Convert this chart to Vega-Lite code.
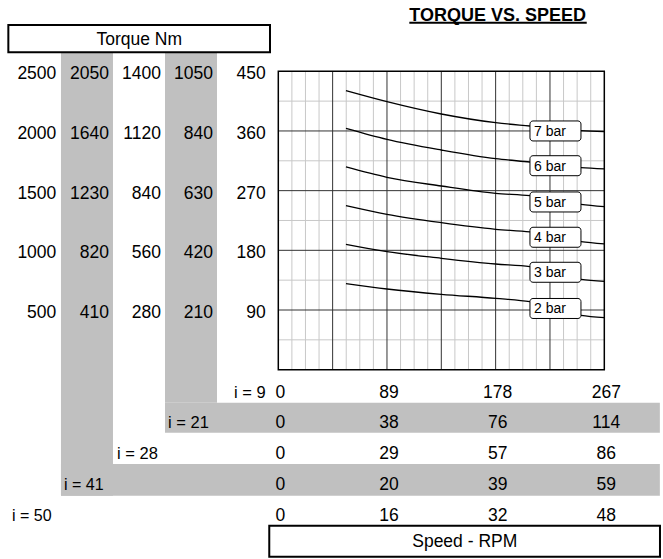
{
  "$schema": "https://vega.github.io/schema/vega-lite/v6.json",
  "width": 663,
  "height": 559,
  "padding": 0,
  "autosize": {"type": "none"},
  "background": "white",
  "config": {"view": {"stroke": null}, "axis": {"disable": true}, "text": {"font": "Liberation Sans", "fontSize": 17.5, "color": "black"}},
  "data": {"values": [{"anchor": 1}]},
  "datasets": {
    "vgrid": [
      {"n9": 11.125, "kind": "minor"}, {"n9": 22.25, "kind": "minor"}, {"n9": 33.375, "kind": "minor"},
      {"n9": 55.625, "kind": "minor"}, {"n9": 66.75, "kind": "minor"}, {"n9": 77.875, "kind": "minor"},
      {"n9": 100.125, "kind": "minor"}, {"n9": 111.25, "kind": "minor"}, {"n9": 122.375, "kind": "minor"},
      {"n9": 144.625, "kind": "minor"}, {"n9": 155.75, "kind": "minor"}, {"n9": 166.875, "kind": "minor"},
      {"n9": 189.125, "kind": "minor"}, {"n9": 200.25, "kind": "minor"}, {"n9": 211.375, "kind": "minor"},
      {"n9": 233.625, "kind": "minor"}, {"n9": 244.75, "kind": "minor"}, {"n9": 255.875, "kind": "minor"},
      {"n9": 44.5, "kind": "major"}, {"n9": 89, "kind": "major"}, {"n9": 133.5, "kind": "major"},
      {"n9": 178, "kind": "major"}, {"n9": 222.5, "kind": "major"}
    ],
    "hgrid": [
      {"t9": 45, "kind": "minor"}, {"t9": 135, "kind": "minor"}, {"t9": 225, "kind": "minor"},
      {"t9": 315, "kind": "minor"}, {"t9": 405, "kind": "minor"},
      {"t9": 90, "kind": "major"}, {"t9": 180, "kind": "major"}, {"t9": 270, "kind": "major"}, {"t9": 360, "kind": "major"}
    ],
    "curves": [
      {"pressure": "7 bar", "n": 55.4, "t": 420.8}, {"pressure": "7 bar", "n": 89, "t": 404.2}, {"pressure": "7 bar", "n": 133.5, "t": 385.6}, {"pressure": "7 bar", "n": 178, "t": 372.5}, {"pressure": "7 bar", "n": 206.1, "t": 367.5}, {"pressure": "7 bar", "n": 247.9, "t": 360.5}, {"pressure": "7 bar", "n": 267, "t": 359},
      {"pressure": "6 bar", "n": 55.4, "t": 364}, {"pressure": "6 bar", "n": 89, "t": 347.4}, {"pressure": "6 bar", "n": 133.5, "t": 331.3}, {"pressure": "6 bar", "n": 178, "t": 318.2}, {"pressure": "6 bar", "n": 206.1, "t": 313.2}, {"pressure": "6 bar", "n": 247.9, "t": 304.7}, {"pressure": "6 bar", "n": 267, "t": 302.7},
      {"pressure": "5 bar", "n": 55.4, "t": 305.7}, {"pressure": "5 bar", "n": 89, "t": 290.1}, {"pressure": "5 bar", "n": 133.5, "t": 277}, {"pressure": "5 bar", "n": 178, "t": 266}, {"pressure": "5 bar", "n": 206.1, "t": 262.4}, {"pressure": "5 bar", "n": 247.9, "t": 249.4}, {"pressure": "5 bar", "n": 267, "t": 245.9},
      {"pressure": "4 bar", "n": 55.4, "t": 247.4}, {"pressure": "4 bar", "n": 89, "t": 234.3}, {"pressure": "4 bar", "n": 133.5, "t": 221.7}, {"pressure": "4 bar", "n": 178, "t": 211.7}, {"pressure": "4 bar", "n": 206.1, "t": 207.7}, {"pressure": "4 bar", "n": 247.9, "t": 193.1}, {"pressure": "4 bar", "n": 267, "t": 189.6},
      {"pressure": "3 bar", "n": 55.4, "t": 189.1}, {"pressure": "3 bar", "n": 89, "t": 178}, {"pressure": "3 bar", "n": 133.5, "t": 168}, {"pressure": "3 bar", "n": 178, "t": 159.4}, {"pressure": "3 bar", "n": 206.1, "t": 155.4}, {"pressure": "3 bar", "n": 247.9, "t": 136.3}, {"pressure": "3 bar", "n": 267, "t": 133.3},
      {"pressure": "2 bar", "n": 55.4, "t": 129.7}, {"pressure": "2 bar", "n": 89, "t": 121.7}, {"pressure": "2 bar", "n": 133.5, "t": 113.7}, {"pressure": "2 bar", "n": 178, "t": 107.6}, {"pressure": "2 bar", "n": 206.1, "t": 102.6}, {"pressure": "2 bar", "n": 247.9, "t": 82}, {"pressure": "2 bar", "n": 267, "t": 78.5}
    ],
    "labels": [
      {"pressure": "7 bar", "n": 227, "t": 360},
      {"pressure": "6 bar", "n": 227, "t": 307.6},
      {"pressure": "5 bar", "n": 227, "t": 252.9},
      {"pressure": "4 bar", "n": 227, "t": 199.7},
      {"pressure": "3 bar", "n": 227, "t": 146.9},
      {"pressure": "2 bar", "n": 227, "t": 92.3}
    ],
    "torque": [
      {"ratio": 50, "t9": 450, "torque": 2500}, {"ratio": 50, "t9": 360, "torque": 2000}, {"ratio": 50, "t9": 270, "torque": 1500}, {"ratio": 50, "t9": 180, "torque": 1000}, {"ratio": 50, "t9": 90, "torque": 500},
      {"ratio": 41, "t9": 450, "torque": 2050}, {"ratio": 41, "t9": 360, "torque": 1640}, {"ratio": 41, "t9": 270, "torque": 1230}, {"ratio": 41, "t9": 180, "torque": 820}, {"ratio": 41, "t9": 90, "torque": 410},
      {"ratio": 28, "t9": 450, "torque": 1400}, {"ratio": 28, "t9": 360, "torque": 1120}, {"ratio": 28, "t9": 270, "torque": 840}, {"ratio": 28, "t9": 180, "torque": 560}, {"ratio": 28, "t9": 90, "torque": 280},
      {"ratio": 21, "t9": 450, "torque": 1050}, {"ratio": 21, "t9": 360, "torque": 840}, {"ratio": 21, "t9": 270, "torque": 630}, {"ratio": 21, "t9": 180, "torque": 420}, {"ratio": 21, "t9": 90, "torque": 210},
      {"ratio": 9, "t9": 450, "torque": 450}, {"ratio": 9, "t9": 360, "torque": 360}, {"ratio": 9, "t9": 270, "torque": 270}, {"ratio": 9, "t9": 180, "torque": 180}, {"ratio": 9, "t9": 90, "torque": 90}
    ],
    "speed": [
      {"ratio": 9, "n9": 0, "rpm": 0}, {"ratio": 9, "n9": 89, "rpm": 89}, {"ratio": 9, "n9": 178, "rpm": 178}, {"ratio": 9, "n9": 267, "rpm": 267},
      {"ratio": 21, "n9": 0, "rpm": 0}, {"ratio": 21, "n9": 89, "rpm": 38}, {"ratio": 21, "n9": 178, "rpm": 76}, {"ratio": 21, "n9": 267, "rpm": 114},
      {"ratio": 28, "n9": 0, "rpm": 0}, {"ratio": 28, "n9": 89, "rpm": 29}, {"ratio": 28, "n9": 178, "rpm": 57}, {"ratio": 28, "n9": 267, "rpm": 86},
      {"ratio": 41, "n9": 0, "rpm": 0}, {"ratio": 41, "n9": 89, "rpm": 20}, {"ratio": 41, "n9": 178, "rpm": 39}, {"ratio": 41, "n9": 267, "rpm": 59},
      {"ratio": 50, "n9": 0, "rpm": 0}, {"ratio": 50, "n9": 89, "rpm": 16}, {"ratio": 50, "n9": 178, "rpm": 32}, {"ratio": 50, "n9": 267, "rpm": 48}
    ]
  },
  "layer": [
    {
      "mark": {"type": "rect", "fill": "#c0c0c0"},
      "encoding": {
        "x": {"datum": -178.0, "type": "quantitative", "scale": {"domain": [-227.93, 315.07], "nice": false, "zero": false}},
        "x2": {"datum": -135.4},
        "y": {"datum": 478.7, "type": "quantitative", "scale": {"domain": [-285.5, 557.5], "nice": false, "zero": false}},
        "y2": {"datum": -190.0}
      }
    },
    {
      "mark": {"type": "rect", "fill": "#c0c0c0"},
      "encoding": {"x": {"datum": -92.8}, "x2": {"datum": -50.2}, "y": {"datum": 478.7}, "y2": {"datum": -49.8}}
    },
    {
      "mark": {"type": "rect", "fill": "#c0c0c0"},
      "encoding": {"x": {"datum": -92.8}, "x2": {"datum": 312.5}, "y": {"datum": -49.8}, "y2": {"datum": -95.0}}
    },
    {
      "mark": {"type": "rect", "fill": "#c0c0c0"},
      "encoding": {"x": {"datum": -178.0}, "x2": {"datum": 312.5}, "y": {"datum": -142.2}, "y2": {"datum": -190.0}}
    },
    {
      "data": {"name": "vgrid"},
      "transform": [{"filter": "datum.kind == 'minor'"}],
      "mark": {"type": "rule", "stroke": "#c8c8c8", "strokeWidth": 1},
      "encoding": {"x": {"field": "n9", "type": "quantitative"}, "y": {"datum": 0}, "y2": {"datum": 450}}
    },
    {
      "data": {"name": "hgrid"},
      "transform": [{"filter": "datum.kind == 'minor'"}],
      "mark": {"type": "rule", "stroke": "#c8c8c8", "strokeWidth": 1},
      "encoding": {"y": {"field": "t9", "type": "quantitative"}, "x": {"datum": 0}, "x2": {"datum": 267}}
    },
    {
      "data": {"name": "vgrid"},
      "transform": [{"filter": "datum.kind == 'major'"}],
      "mark": {"type": "rule", "stroke": "#333333", "strokeWidth": 1},
      "encoding": {"x": {"field": "n9", "type": "quantitative"}, "y": {"datum": 0}, "y2": {"datum": 450}}
    },
    {
      "data": {"name": "hgrid"},
      "transform": [{"filter": "datum.kind == 'major'"}],
      "mark": {"type": "rule", "stroke": "#333333", "strokeWidth": 1},
      "encoding": {"y": {"field": "t9", "type": "quantitative"}, "x": {"datum": 0}, "x2": {"datum": 267}}
    },
    {
      "mark": {"type": "rect", "fill": "white", "fillOpacity": 0, "stroke": "black", "strokeWidth": 1.5},
      "encoding": {"x": {"datum": 0}, "x2": {"datum": 267}, "y": {"datum": 0}, "y2": {"datum": 450}}
    },
    {
      "data": {"name": "curves"},
      "mark": {"type": "line", "color": "black", "strokeWidth": 1.3, "interpolate": "monotone"},
      "encoding": {"x": {"field": "n", "type": "quantitative"}, "y": {"field": "t", "type": "quantitative"}, "detail": {"field": "pressure"}}
    },
    {
      "data": {"name": "labels"},
      "mark": {"type": "rect", "width": 51, "height": 20, "fill": "white", "stroke": "black", "strokeWidth": 1, "cornerRadius": 3},
      "encoding": {"x": {"field": "n", "type": "quantitative"}, "y": {"field": "t", "type": "quantitative"}}
    },
    {
      "data": {"name": "labels"},
      "mark": {"type": "text", "align": "left", "baseline": "middle", "fontSize": 14, "dx": -21.5, "dy": 1},
      "encoding": {"x": {"field": "n", "type": "quantitative"}, "y": {"field": "t", "type": "quantitative"}, "text": {"field": "pressure"}}
    },
    {
      "data": {"name": "torque"},
      "transform": [{"filter": "datum.ratio == 50"}],
      "mark": {"type": "text", "align": "right", "baseline": "middle", "dy": 3},
      "encoding": {"x": {"datum": -181.8}, "y": {"field": "t9", "type": "quantitative"}, "text": {"field": "torque", "type": "quantitative", "format": "d"}}
    },
    {
      "data": {"name": "torque"},
      "transform": [{"filter": "datum.ratio == 41"}],
      "mark": {"type": "text", "align": "right", "baseline": "middle", "dy": 3},
      "encoding": {"x": {"datum": -138.7}, "y": {"field": "t9", "type": "quantitative"}, "text": {"field": "torque", "type": "quantitative", "format": "d"}}
    },
    {
      "data": {"name": "torque"},
      "transform": [{"filter": "datum.ratio == 28"}],
      "mark": {"type": "text", "align": "right", "baseline": "middle", "dy": 3},
      "encoding": {"x": {"datum": -96.1}, "y": {"field": "t9", "type": "quantitative"}, "text": {"field": "torque", "type": "quantitative", "format": "d"}}
    },
    {
      "data": {"name": "torque"},
      "transform": [{"filter": "datum.ratio == 21"}],
      "mark": {"type": "text", "align": "right", "baseline": "middle", "dy": 3},
      "encoding": {"x": {"datum": -53.5}, "y": {"field": "t9", "type": "quantitative"}, "text": {"field": "torque", "type": "quantitative", "format": "d"}}
    },
    {
      "data": {"name": "torque"},
      "transform": [{"filter": "datum.ratio == 9"}],
      "mark": {"type": "text", "align": "right", "baseline": "middle", "dy": 3},
      "encoding": {"x": {"datum": -10.3}, "y": {"field": "t9", "type": "quantitative"}, "text": {"field": "torque", "type": "quantitative", "format": "d"}}
    },
    {
      "data": {"name": "speed"},
      "transform": [{"filter": "datum.ratio == 9"}],
      "mark": {"type": "text", "align": "center", "baseline": "middle", "dx": 2, "dy": 1},
      "encoding": {"x": {"field": "n9", "type": "quantitative"}, "y": {"datum": -33.2}, "text": {"field": "rpm", "type": "quantitative", "format": "d"}}
    },
    {
      "data": {"name": "speed"},
      "transform": [{"filter": "datum.ratio == 21"}],
      "mark": {"type": "text", "align": "center", "baseline": "middle", "dx": 2, "dy": 1},
      "encoding": {"x": {"field": "n9", "type": "quantitative"}, "y": {"datum": -79.3}, "text": {"field": "rpm", "type": "quantitative", "format": "d"}}
    },
    {
      "data": {"name": "speed"},
      "transform": [{"filter": "datum.ratio == 28"}],
      "mark": {"type": "text", "align": "center", "baseline": "middle", "dx": 2, "dy": 1},
      "encoding": {"x": {"field": "n9", "type": "quantitative"}, "y": {"datum": -126.1}, "text": {"field": "rpm", "type": "quantitative", "format": "d"}}
    },
    {
      "data": {"name": "speed"},
      "transform": [{"filter": "datum.ratio == 41"}],
      "mark": {"type": "text", "align": "center", "baseline": "middle", "dx": 2, "dy": 1},
      "encoding": {"x": {"field": "n9", "type": "quantitative"}, "y": {"datum": -172.4}, "text": {"field": "rpm", "type": "quantitative", "format": "d"}}
    },
    {
      "data": {"name": "speed"},
      "transform": [{"filter": "datum.ratio == 50"}],
      "mark": {"type": "text", "align": "center", "baseline": "middle", "dx": 2, "dy": 1},
      "encoding": {"x": {"field": "n9", "type": "quantitative"}, "y": {"datum": -219.1}, "text": {"field": "rpm", "type": "quantitative", "format": "d"}}
    },
    {
      "mark": {"type": "text", "text": "i = 9", "align": "right", "baseline": "middle", "dy": 1, "fontSize": 16.5},
      "encoding": {"x": {"datum": -10.3}, "y": {"datum": -33.2}}
    },
    {
      "mark": {"type": "text", "text": "i = 21", "align": "left", "baseline": "middle", "dy": 1, "fontSize": 16.5},
      "encoding": {"x": {"datum": -90.3}, "y": {"datum": -79.3}}
    },
    {
      "mark": {"type": "text", "text": "i = 28", "align": "left", "baseline": "middle", "dy": 1, "fontSize": 16.5},
      "encoding": {"x": {"datum": -132.1}, "y": {"datum": -126.1}}
    },
    {
      "mark": {"type": "text", "text": "i = 41", "align": "left", "baseline": "middle", "dy": 1, "fontSize": 16},
      "encoding": {"x": {"datum": -175.5}, "y": {"datum": -172.4}}
    },
    {
      "mark": {"type": "text", "text": "i = 50", "align": "left", "baseline": "middle", "dy": 1, "fontSize": 16},
      "encoding": {"x": {"datum": -218.1}, "y": {"datum": -219.1}}
    },
    {
      "mark": {"type": "rect", "fill": "white", "fillOpacity": 0, "stroke": "black", "strokeWidth": 2},
      "encoding": {"x": {"datum": -221.1}, "x2": {"datum": -6.8}, "y": {"datum": 519.8}, "y2": {"datum": 478.7}}
    },
    {
      "mark": {"type": "text", "text": "Torque Nm", "align": "center", "baseline": "middle", "dy": 1},
      "encoding": {"x": {"datum": -113.9}, "y": {"datum": 498.7}}
    },
    {
      "mark": {"type": "rect", "fill": "white", "fillOpacity": 0, "stroke": "black", "strokeWidth": 2},
      "encoding": {"x": {"datum": -7.4}, "x2": {"datum": 312.6}, "y": {"datum": -235.3}, "y2": {"datum": -282.0}}
    },
    {
      "mark": {"type": "text", "text": "Speed - RPM", "align": "center", "baseline": "middle", "dy": 1},
      "encoding": {"x": {"datum": 152.7}, "y": {"datum": -258.3}}
    },
    {
      "mark": {"type": "text", "text": "TORQUE VS. SPEED", "align": "left", "baseline": "alphabetic", "fontSize": 18, "fontWeight": "bold"},
      "encoding": {"x": {"datum": 107.3}, "y": {"datum": 526.3}}
    },
    {
      "mark": {"type": "rule", "stroke": "black", "strokeWidth": 2},
      "encoding": {"x": {"datum": 107.3}, "x2": {"datum": 252.6}, "y": {"datum": 523.3}}
    }
  ]
}
